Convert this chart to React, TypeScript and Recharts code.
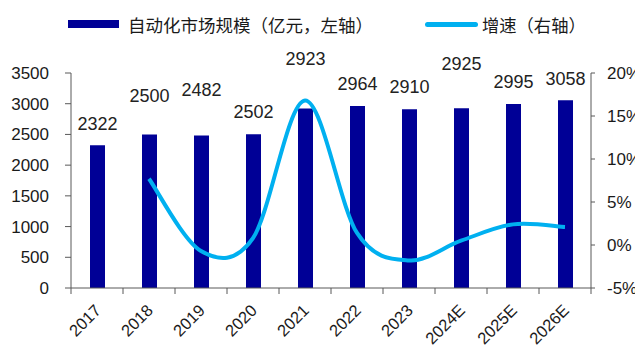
import React from "react";
import {
  ComposedChart,
  Bar,
  Line,
  XAxis,
  YAxis,
  LabelList,
} from "recharts";

const years = [
  "2017",
  "2018",
  "2019",
  "2020",
  "2021",
  "2022",
  "2023",
  "2024E",
  "2025E",
  "2026E",
];
const marketSize = [2322, 2500, 2482, 2502, 2923, 2964, 2910, 2925, 2995, 3058];
const growth = [null, 7.7, -0.7, 0.8, 16.8, 1.4, -1.8, 0.5, 2.4, 2.1];
const leftTicks = [0, 500, 1000, 1500, 2000, 2500, 3000, 3500];
const rightTicks = [-5, 0, 5, 10, 15, 20];

// how far above each bar its value label sits (px), as in the source
const labelLift = [22, 39, 46, 22.5, 50, 22, 22.5, 44.5, 22, 21.5];

const data = years.map((year, i) => ({
  year,
  size: marketSize[i],
  growth: growth[i],
}));

const W = 635;
const H = 340;
const BAND = 52;
const AXIS = "#595959";
const FONT = "'Liberation Sans', Arial, sans-serif";
const CJK = "'Noto Sans CJK SC', sans-serif";

// Excel-style smoothed line (Catmull-Rom as bezier segments)
const excelSmooth = (context: any) => {
  let pts: number[][] = [];
  return {
    areaStart() {},
    areaEnd() {},
    lineStart() {
      pts = [];
    },
    point(x: number, y: number) {
      pts.push([+x, +y]);
    },
    lineEnd() {
      if (!pts.length) return;
      context.moveTo(pts[0][0], pts[0][1]);
      for (let i = 0; i < pts.length - 1; i++) {
        const p0 = pts[i - 1] || pts[i];
        const p1 = pts[i];
        const p2 = pts[i + 1];
        const p3 = pts[i + 2] || p2;
        context.bezierCurveTo(
          p1[0] + (p2[0] - p0[0]) / 6,
          p1[1] + (p2[1] - p0[1]) / 6,
          p2[0] - (p3[0] - p1[0]) / 6,
          p2[1] - (p3[1] - p1[1]) / 6,
          p2[0],
          p2[1]
        );
      }
    },
  };
};

const YearTick = (props: any) => {
  const { x, y, payload, index } = props;
  const tx = x + 5;
  const ty = y + 23.5;
  return (
    <g>
      <line x1={x - BAND / 2} y1={y} x2={x - BAND / 2} y2={y + 6} stroke={AXIS} />
      {index === years.length - 1 && (
        <line x1={x + BAND / 2} y1={y} x2={x + BAND / 2} y2={y + 6} stroke={AXIS} />
      )}
      <text
        x={tx}
        y={ty}
        transform={`rotate(-45 ${tx} ${ty})`}
        textAnchor="end"
        fontSize={16.5}
        fontFamily={FONT}
        fill="#1a1a1a"
      >
        {payload.value}
      </text>
    </g>
  );
};

const ValueLabel = (props: any) => {
  const { x, y, width, value, index } = props;
  return (
    <text
      x={x + width / 2}
      y={y - labelLift[index] + 6.4}
      textAnchor="middle"
      fontSize={18}
      fontFamily={FONT}
      fill="#222"
    >
      {value}
    </text>
  );
};

const Legend = () => (
  <div style={{ position: "absolute", left: 0, top: 0, width: W, height: 40 }}>
    <div
      style={{
        position: "absolute",
        left: 60,
        top: 12,
        width: 51,
        height: 8,
        background: "#000096",
      }}
    />
    <span
      style={{
        position: "absolute",
        left: 120,
        top: 4,
        fontSize: 17.5,
        lineHeight: "26px",
        fontFamily: CJK,
        color: "#1a1a1a",
        whiteSpace: "nowrap",
      }}
    >
      自动化市场规模（亿元，左轴）
    </span>
    <div
      style={{
        position: "absolute",
        left: 417,
        top: 14,
        width: 53,
        height: 5,
        borderRadius: 3,
        background: "#00B0F0",
      }}
    />
    <span
      style={{
        position: "absolute",
        left: 474,
        top: 4,
        fontSize: 17.3,
        lineHeight: "26px",
        fontFamily: CJK,
        color: "#1a1a1a",
        whiteSpace: "nowrap",
      }}
    >
      增速（右轴）
    </span>
  </div>
);

export default function App() {
  return (
    <div style={{ position: "relative", width: W, height: H, background: "#fff" }}>
      <ComposedChart
        width={W}
        height={H}
        data={data}
        margin={{ top: 65, right: 0, bottom: 0, left: 0 }}
      >
        <XAxis
          dataKey="year"
          height={60}
          interval={0}
          tickLine={false}
          tickSize={0}
          tickMargin={0}
          axisLine={{ stroke: AXIS }}
          tick={<YearTick />}
        />
        <YAxis
          yAxisId="left"
          width={63}
          domain={[0, 3500]}
          ticks={leftTicks}
          interval={0}
          tickSize={6}
          tickMargin={16}
          axisLine={{ stroke: AXIS }}
          tickLine={{ stroke: AXIS }}
          tick={{ fontSize: 17, fontFamily: FONT, fill: "#1a1a1a" }}
        />
        <YAxis
          yAxisId="right"
          orientation="right"
          width={52}
          domain={[-5, 20]}
          ticks={rightTicks}
          interval={0}
          tickSize={4}
          tickMargin={12}
          tickFormatter={(v: number) => `${v}%`}
          axisLine={{ stroke: AXIS }}
          tickLine={{ stroke: AXIS }}
          tick={{ fontSize: 17, fontFamily: FONT, fill: "#1a1a1a" }}
        />
        <Bar
          yAxisId="left"
          dataKey="size"
          barSize={15}
          fill="#000096"
          isAnimationActive={false}
        >
          <LabelList dataKey="size" content={<ValueLabel />} />
        </Bar>
        <Line
          yAxisId="right"
          dataKey="growth"
          type={excelSmooth as any}
          stroke="#00B0F0"
          strokeWidth={4}
          dot={false}
          activeDot={false}
          isAnimationActive={false}
        />
      </ComposedChart>
      <Legend />
    </div>
  );
}
